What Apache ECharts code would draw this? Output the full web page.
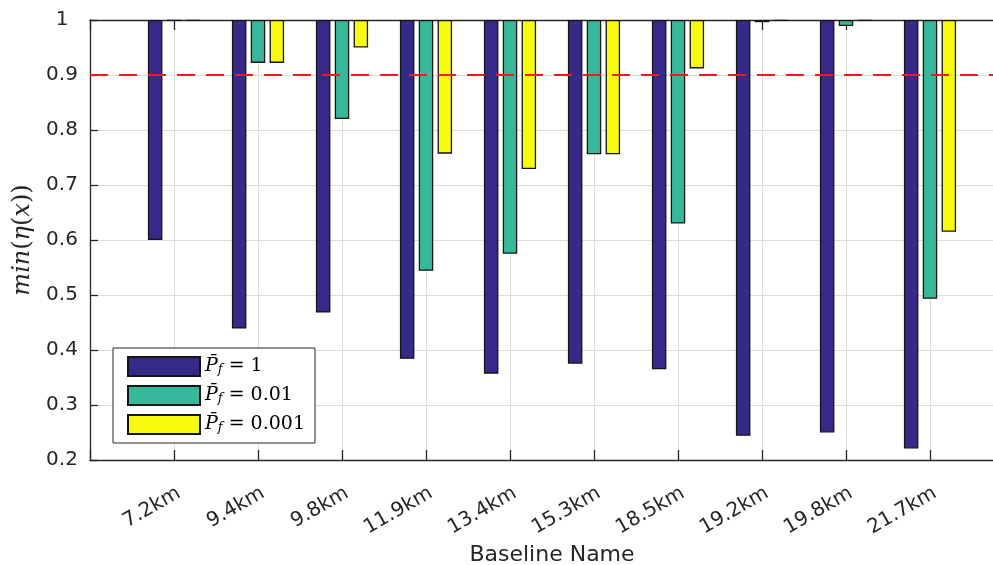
<!DOCTYPE html>
<html><head><meta charset="utf-8">
<script src="https://cdn.jsdelivr.net/npm/echarts@6/dist/echarts.min.js"></script>
<style>html,body{margin:0;padding:0;background:#fff}#c{width:993px;height:565px}</style>
</head><body><div id="c"></div>
<script>
// ---- data ----
const categories = ['7.2km','9.4km','9.8km','11.9km','13.4km','15.3km','18.5km','19.2km','19.8km','21.7km'];
const pf1    = [0.600, 0.439, 0.468, 0.384, 0.357, 0.375, 0.365, 0.244, 0.250, 0.221];
const pf001  = [0.999, 0.922, 0.820, 0.544, 0.575, 0.756, 0.630, 0.996, 0.989, 0.493];
const pf0001 = [0.999, 0.922, 0.950, 0.757, 0.729, 0.756, 0.912, 0.999, 0.999, 0.615];
const legendValues = ['1', '0.01', '0.001'];
const yMin = 0.2, yMax = 1, yStep = 0.1;
const threshold = 0.9;

// ---- styling ----
const seriesColors = ['#352a87', '#36b89a', '#f9fb0e'];
const axisColor = '#262626';
const tickFont = 'DejaVu Sans';

const xLabels = [''].concat(categories, ['']);
const groups = [pf1, pf001, pf0001];
const series = [];
groups.forEach(function (vals, k) {
  const stack = 's' + k;
  series.push({
    type: 'bar', name: 'base' + k, stack: stack,
    data: [null].concat(vals, [null]),
    itemStyle: { color: 'rgba(0,0,0,0)' },
    barWidth: 14.5, barGap: '30%', silent: true, z: 1
  });
  series.push({
    type: 'bar', name: 'P' + k, stack: stack,
    data: [null].concat(vals.map(function (v) { return +(yMax - v).toFixed(6); }), [null]),
    itemStyle: { color: seriesColors[k], borderColor: '#151515', borderWidth: 1.3 },
    barWidth: 14.5, barGap: '30%', z: 2
  });
});
series[1].markLine = {
  silent: true, symbol: ['none', 'none'], label: { show: false },
  lineStyle: { color: '#ee1c1c', type: [18, 11], width: 1.8 },
  data: [{ yAxis: threshold }], z: 5
};

const chart = echarts.init(document.getElementById('c'));
chart.setOption({
  animation: false,
  backgroundColor: '#fff',
  grid: { left: 90, top: 20, width: 924, height: 440, containLabel: false, outerBoundsMode: 'none' },
  legend: {
    data: ['P0', 'P1', 'P2'],
    orient: 'vertical', left: 113, top: 348,
    itemWidth: 72, itemHeight: 19, itemGap: 8,
    padding: [8, 10, 8, 14],
    borderColor: axisColor, borderWidth: 1, backgroundColor: '#fff',
    icon: 'rect',
    formatter: function (name) {
      const k = +name.slice(1);
      return '{p|P\u0304}{f|f}{t| = ' + legendValues[k] + '}';
    },
    textStyle: {
      rich: {
        p: { fontFamily: 'DejaVu Serif', fontStyle: 'italic', fontSize: 19, lineHeight: 19, color: '#000' },
        f: { fontFamily: 'DejaVu Serif', fontStyle: 'italic', fontSize: 13, lineHeight: 10, verticalAlign: 'bottom', color: '#000' },
        t: { fontFamily: 'DejaVu Serif', fontSize: 19, lineHeight: 19, color: '#000' }
      }
    }
  },
  xAxis: [{
    type: 'category', data: xLabels, boundaryGap: false, position: 'bottom',
    name: 'Baseline Name', nameLocation: 'middle', nameGap: 70,
    nameTextStyle: { fontFamily: tickFont, fontSize: 22, color: axisColor },
    axisLine: { show: true, lineStyle: { color: axisColor, width: 1.3 } },
    axisTick: { show: true, inside: true, length: 10, lineStyle: { color: axisColor, width: 1.3 } },
    axisLabel: { interval: 0, rotate: 30, align: 'right', verticalAlign: 'top', margin: 23,
      fontFamily: tickFont, fontSize: 20, color: axisColor },
    splitLine: { show: true, lineStyle: { color: '#dcdcdc', width: 1 } }
  }, {
    type: 'category', data: xLabels, boundaryGap: false, position: 'top',
    axisLine: { show: true, lineStyle: { color: axisColor, width: 1.3 } },
    axisTick: { show: true, inside: true, length: 10, lineStyle: { color: axisColor, width: 1.3 } },
    axisLabel: { show: false }, splitLine: { show: false }
  }],
  yAxis: {
    type: 'value', min: yMin, max: yMax, interval: yStep,
    name: '{a|min}{b|(}{a|η}{b|(}{a|x}{b|))}', nameLocation: 'middle', nameGap: 42,
    nameTextStyle: {
      rich: {
        a: { fontFamily: 'DejaVu Serif', fontStyle: 'italic', fontSize: 24, color: axisColor },
        b: { fontFamily: 'DejaVu Serif', fontSize: 24, color: axisColor }
      }
    },
    axisLine: { show: true, lineStyle: { color: axisColor, width: 1.3 } },
    axisTick: { show: true, inside: true, length: 8, lineStyle: { color: axisColor, width: 1.3 } },
    axisLabel: { align: 'center', margin: 28, fontFamily: tickFont, fontSize: 20, color: axisColor },
    splitLine: { show: true, lineStyle: { color: '#dcdcdc', width: 1 } }
  },
  series: series
});
</script>
</body></html>
